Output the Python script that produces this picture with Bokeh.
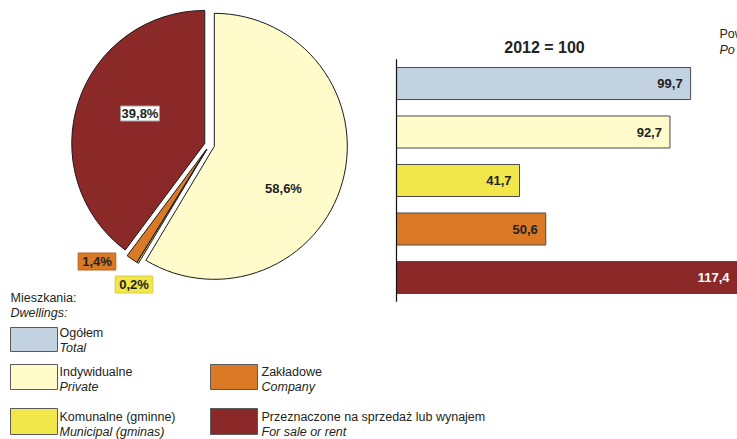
import numpy as np
from bokeh.plotting import figure
from bokeh.models import Range1d, ColumnDataSource
from bokeh.core.properties import value
from bokeh.embed import file_html
from bokeh.resources import INLINE

# ---------------- data ----------------
pie_categories = ["Indywidualne", "Komunalne (gminne)", "Zakładowe",
                  "Przeznaczone na sprzedaż lub wynajem"]
pie_shares = [58.6, 0.2, 1.4, 39.8]
pie_labels = ["58,6%", "0,2%", "1,4%", "39,8%"]
pie_colors = ["#FFFBCB", "#F2E74A", "#DB7A26", "#8B2828"]

bar_categories = ["Ogółem", "Indywidualne", "Komunalne (gminne)", "Zakładowe",
                  "Przeznaczone na sprzedaż lub wynajem"]
bar_values = [99.7, 92.7, 41.7, 50.6, 117.4]
bar_labels = ["99,7", "92,7", "41,7", "50,6", "117,4"]
bar_colors = ["#C3D2E0", "#FFFBCB", "#F2E74A", "#DB7A26", "#8B2828"]
bar_label_colors = ["#222222", "#222222", "#222222", "#222222", "#FFFFFF"]

legend_pl = ["Ogółem", "Indywidualne", "Komunalne (gminne)", "Zakładowe",
             "Przeznaczone na sprzedaż lub wynajem"]
legend_en = ["Total", "Private", "Municipal (gminas)", "Company", "For sale or rent"]
legend_colors = ["#C3D2E0", "#FFFBCB", "#F2E74A", "#DB7A26", "#8B2828"]

title_text = "2012 = 100"
legend_head_pl = "Mieszkania:"
legend_head_en = "Dwellings:"

# ---------------- layout ----------------
W, H = 737, 439
FONT = value("Liberation Sans")
DARK = "#231F20"

p = figure(width=W, height=H, x_range=Range1d(0, W), y_range=Range1d(0, H),
           output_backend="svg", toolbar_location=None, min_border=0,
           x_axis_location=None, y_axis_location=None)
p.grid.visible = False
p.outline_line_color = None
p.background_fill_color = "white"
p.border_fill_color = "white"

# ---- pie ----
PIE_CX, PIE_CY, PIE_R, EXPLODE = 209.0, 294.5, 133.0, 5.0
shares = np.array(pie_shares)
frac = shares / shares.sum()
cum_end = np.cumsum(frac) * 2 * np.pi
cum_start = cum_end - frac * 2 * np.pi
mid = (cum_start + cum_end) / 2
pie_src = ColumnDataSource(dict(
    x=PIE_CX + EXPLODE * np.sin(mid),
    y=PIE_CY + EXPLODE * np.cos(mid),
    start=np.pi / 2 - cum_end,
    end=np.pi / 2 - cum_start,
    color=pie_colors,
))
p.wedge(x="x", y="y", radius=PIE_R, start_angle="start", end_angle="end",
        direction="anticlock", fill_color="color", line_color="#1A1A1A",
        line_width=1, source=pie_src)

# pie labels (positions are layout)
label_pos = [(283, 251), (133.5, 155), (96.5, 178), (139.5, 326)]
box_fill = [None, pie_colors[1], pie_colors[2], "#FFFFFF"]
box_line = [None, "#D9CF3A", "#B8601A", "#A0A0A0"]
box_pad = [0, (4, 1), (4, 1), (1, 0)]
for i, lab in enumerate(pie_labels):
    kw = {}
    if box_fill[i] is not None:
        kw = dict(background_fill_color=box_fill[i], border_line_color=box_line[i],
                  padding=box_pad[i])
    p.text(x=[label_pos[i][0]], y=[label_pos[i][1]], text=[lab], text_font=FONT,
           text_font_size="13px", text_font_style="bold", text_color=DARK,
           text_align="center", text_baseline="middle", **kw)

# ---- bars ----
VAL_PX0, PX_PER_UNIT = 396.0, 2.95
ROW_PX0, ROW_PITCH = 162.0, 48.5
VAL_END = (W - VAL_PX0) / PX_PER_UNIT
p.extra_x_ranges = {"val": Range1d(-VAL_PX0 / PX_PER_UNIT, VAL_END)}
p.extra_y_ranges = {"row": Range1d(-ROW_PX0 / ROW_PITCH, (H - ROW_PX0) / ROW_PITCH)}

n = len(bar_values)
vals = np.array(bar_values)
pos = (n - 1 - np.arange(n)).astype(float)
bar_src = ColumnDataSource(dict(
    pos=pos, val=vals, color=bar_colors, lab=bar_labels,
    lab_x=np.minimum(vals, VAL_END),
    lab_col=bar_label_colors,
))
p.hbar(y="pos", left=0, right="val", height=0.66, fill_color="color",
       line_color="#4A4A4A", line_width=1, source=bar_src,
       x_range_name="val", y_range_name="row")
p.text(x="lab_x", y="pos", text="lab", x_offset=-8, text_font=FONT,
       text_font_size="13px", text_font_style="bold", text_color="lab_col",
       text_align="right", text_baseline="middle", source=bar_src,
       x_range_name="val", y_range_name="row")
p.segment(x0=[0], y0=[-0.5], x1=[0], y1=[n - 0.5], line_color="#111111",
          line_width=1.2, x_range_name="val", y_range_name="row")

p.text(x=[544], y=[392], text=[title_text], text_font=FONT, text_font_size="16px",
       text_font_style="bold", text_color=DARK, text_align="center",
       text_baseline="middle")

# truncated heading at right edge
p.text(x=[719, 719], y=[406, 390], text=["Pow", "Po"], text_font=FONT,
       text_font_size="12.5px", text_font_style=["normal", "italic"],
       text_color=DARK, text_align="left", text_baseline="middle")

# ---- legend ----
p.text(x=[10, 10], y=[142, 127], text=[legend_head_pl, legend_head_en], text_font=FONT,
       text_font_size="12.5px", text_font_style=["normal", "italic"], text_color=DARK,
       text_align="left", text_baseline="middle")

box_cx = [33.5, 33.5, 33.5, 233.5, 233.5]
box_cy = [100, 62.5, 18, 62.5, 18]
box_h = [24, 25, 26, 25, 26]
text_x = [59, 59, 59, 261, 261]
line1_y = [107, 68, 22.5, 68, 22.5]
line2_y = [92, 52.5, 7.5, 52.5, 7.5]
p.rect(x=box_cx, y=box_cy, width=47, height=box_h, fill_color=legend_colors,
       line_color="#5A5A5A", line_width=1)
leg_src = ColumnDataSource(dict(
    x=text_x * 2,
    y=line1_y + line2_y,
    t=legend_pl + legend_en,
    s=["normal"] * 5 + ["italic"] * 5,
))
p.text(x="x", y="y", text="t", text_font_style="s", text_font=FONT,
       text_font_size="12.5px", text_color=DARK, text_align="left",
       text_baseline="middle", source=leg_src)

open("out.html", "w").write(file_html(p, INLINE))
